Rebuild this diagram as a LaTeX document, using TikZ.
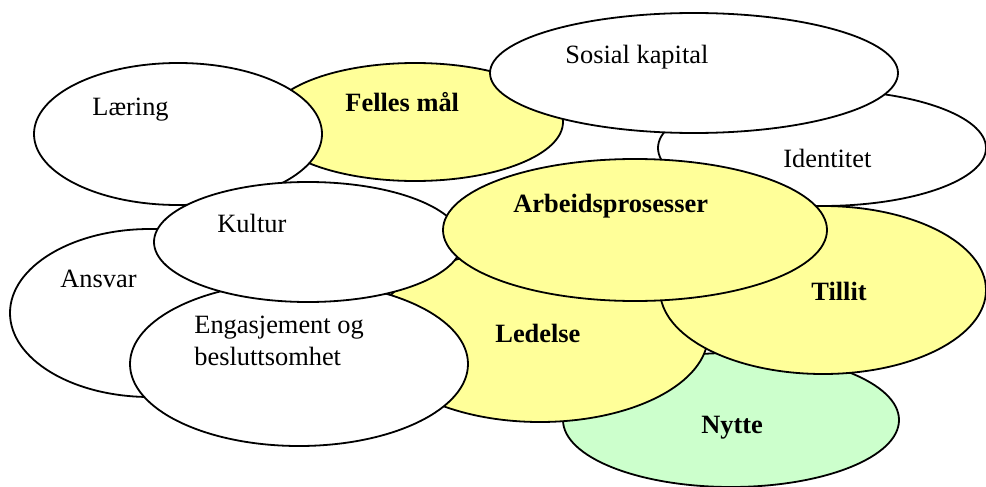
\documentclass[tikz,border=0pt]{standalone}
\usepackage{fontspec}
\setmainfont{Liberation Serif}
\usetikzlibrary{shapes.geometric}

\begin{document}
\begin{tikzpicture}[x=0.5pt, y=-0.5pt,
    oval/.style={ellipse, draw=black, line width=0.9pt, inner sep=0pt},
    lbl/.style={anchor=base west, inner sep=0pt, font=\fontsize{13.2}{16}\selectfont},
    boldlbl/.style={lbl, font=\fontsize{13.2}{16}\selectfont\bfseries}]
    % Define colors
    \definecolor{keyyellow}{RGB}{255,255,153} % pale yellow
    \definecolor{gaingreen}{RGB}{204,255,204} % pale green

    \useasboundingbox (0,0) rectangle (986,487);

    % Bottom layer
    \node[oval, fill=gaingreen, minimum width=168pt, minimum height=67pt] (nytte) at (731,420) {};
    \node[boldlbl] (nyttetxt) at (701,433) {Nytte};

    \node[oval, fill=keyyellow, minimum width=168pt, minimum height=87pt] (ledelse) at (540,335) {};
    \node[boldlbl] (ledelsetxt) at (495,342) {Ledelse};

    \node[oval, fill=keyyellow, minimum width=163pt, minimum height=84pt] (tillit) at (823,290) {};
    \node[boldlbl] (tillittxt) at (811,300) {Tillit};

    \node[oval, fill=white, minimum width=164pt, minimum height=58pt] (identitet) at (822,148) {};
    \node[lbl] (identitettxt) at (783,167) {Identitet};

    % Upper row
    \node[oval, fill=keyyellow, minimum width=148pt, minimum height=59pt] (felles) at (415,122) {};
    \node[boldlbl] (fellestxt) at (345,111) {Felles mål};

    \node[oval, fill=white, minimum width=144pt, minimum height=71pt] (laering) at (178,134) {};
    \node[lbl] (laeringtxt) at (92,115) {Læring};

    \node[oval, fill=white, minimum width=204pt, minimum height=60pt] (sosial) at (694,73) {};
    \node[lbl] (sosialtxt) at (565,63) {Sosial kapital};

    % Left group
    \node[oval, fill=white, minimum width=140pt, minimum height=84pt] (ansvar) at (150,313) {};
    \node[lbl] (ansvartxt) at (60,287) {Ansvar};

    \node[oval, fill=white, minimum width=169pt, minimum height=82pt] (engasjement) at (299,364) {};
    \node[lbl, align=left] (engasjementtxt) at (194,365) {Engasjement og\\besluttsomhet};

    \node[oval, fill=white, minimum width=154pt, minimum height=60pt] (kultur) at (308,242) {};
    \node[lbl] (kulturtxt) at (217,232) {Kultur};

    % Top layer
    \node[oval, fill=keyyellow, minimum width=192pt, minimum height=71pt] (arbeid) at (635,230) {};
    \node[boldlbl] (arbeidtxt) at (513,212) {Arbeidsprosesser};
\end{tikzpicture}
\end{document}
